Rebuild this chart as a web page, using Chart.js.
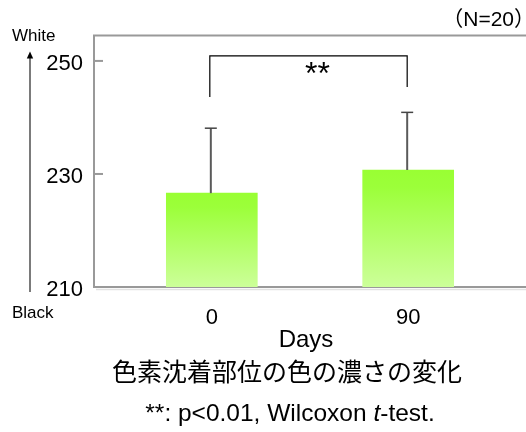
<!DOCTYPE html>
<html>
<head>
<meta charset="utf-8">
<script src="https://cdn.jsdelivr.net/npm/chart.js@4"></script>
<style>
  html, body { margin: 0; padding: 0; background: #fff; }
  canvas { display: block; }
</style>
</head>
<body>
<canvas id="c" width="526" height="432"></canvas>
<script>
// Skin colour measurement: mean (bars) and SD (upper whiskers), N=20
const days = ['0', '90'];
const means = [226.6, 230.7];
const sds = [11.5, 10.2];
const yTicks = [210, 230, 250];
const sigLabel = '**';

const LATIN = '"Liberation Sans", Arial, sans-serif';
const JP = '"Noto Sans CJK JP", sans-serif';
const AXIS_GRAY = '#999999';

function barGradient(ctx) {
  const chart = ctx.chart;
  const ys = chart.scales && chart.scales.y;
  if (!chart.chartArea || !ys || ctx.type !== 'data') return '#b3ff66';
  const top = ys.getPixelForValue(means[ctx.dataIndex]);
  const bottom = ys.getPixelForValue(ys.min);
  const g = chart.ctx.createLinearGradient(0, top, 0, bottom);
  g.addColorStop(0, '#99ff33');
  g.addColorStop(0.15, '#9cff3a');
  g.addColorStop(1, '#ccff99');
  return g;
}

// Frame pieces, inward ticks, whiskers, significance bracket and captions
const decorations = {
  id: 'decorations',
  afterDatasetsDraw(chart) {
    const { ctx, chartArea: a, scales: { x, y } } = chart;
    const bars = chart.getDatasetMeta(0).data;
    ctx.save();

    // top frame line and faint shadow under the baseline
    ctx.strokeStyle = AXIS_GRAY;
    ctx.lineWidth = 2;
    ctx.beginPath();
    ctx.moveTo(a.left - 1, a.top);
    ctx.lineTo(a.right, a.top);
    ctx.stroke();
    ctx.strokeStyle = '#e2e2e2';
    ctx.lineWidth = 1.5;
    ctx.beginPath();
    ctx.moveTo(a.left + 2, a.bottom + 2.5);
    ctx.lineTo(a.right, a.bottom + 2.5);
    ctx.stroke();

    // inward tick marks on the value axis
    ctx.strokeStyle = AXIS_GRAY;
    ctx.lineWidth = 2;
    y.ticks.forEach(t => {
      const py = y.getPixelForValue(t.value);
      if (py >= a.bottom - 1) return;
      ctx.beginPath();
      ctx.moveTo(a.left, py);
      ctx.lineTo(a.left + 9, py);
      ctx.stroke();
    });

    // upper SD whiskers
    bars.forEach((bar, i) => {
      const py0 = y.getPixelForValue(means[i]);
      const py1 = y.getPixelForValue(means[i] + sds[i]);
      ctx.strokeStyle = '#5a5a5a';
      ctx.lineWidth = 2;
      ctx.beginPath();
      ctx.moveTo(bar.x - 1, py0);
      ctx.lineTo(bar.x - 1, py1);
      ctx.stroke();
      ctx.strokeStyle = '#444';
      ctx.lineWidth = 1.5;
      ctx.beginPath();
      ctx.moveTo(bar.x - 7, py1);
      ctx.lineTo(bar.x + 5, py1);
      ctx.stroke();
    });

    // significance bracket between the two days
    const bx0 = bars[0].x - 2, bx1 = bars[1].x - 1;
    const bTop = y.getPixelForValue(250.9);
    const bL = y.getPixelForValue(243.6);
    const bR = y.getPixelForValue(245.4);
    ctx.strokeStyle = '#000';
    ctx.lineWidth = 1.2;
    ctx.beginPath();
    ctx.moveTo(bx0, bL);
    ctx.lineTo(bx0, bTop);
    ctx.lineTo(bx1, bTop);
    ctx.lineTo(bx1, bR);
    ctx.stroke();
    ctx.fillStyle = '#000';
    ctx.font = '32px ' + LATIN;
    ctx.textAlign = 'center';
    ctx.textBaseline = 'middle';
    ctx.fillText(sigLabel, (bx0 + bx1) / 2 + 9, bTop + 19);

    // White / Black direction arrow
    ctx.strokeStyle = '#222';
    ctx.lineWidth = 1.2;
    ctx.beginPath();
    ctx.moveTo(30, 58);
    ctx.lineTo(30, 292);
    ctx.stroke();
    ctx.fillStyle = '#000';
    ctx.beginPath();
    ctx.moveTo(30, 51.5);
    ctx.lineTo(26.8, 58.5);
    ctx.lineTo(33.2, 58.5);
    ctx.closePath();
    ctx.fill();

    ctx.font = '17px ' + LATIN;
    ctx.textAlign = 'left';
    ctx.fillText('White', 12, 36);
    ctx.fillText('Black', 12, 313);

    ctx.font = '21px ' + LATIN + ', ' + JP;
    ctx.textAlign = 'right';
    ctx.fillText('（N=20）', 535, 20);

    ctx.textAlign = 'center';
    ctx.font = '24px ' + LATIN;
    ctx.fillText('Days', 306, 340);

    ctx.font = '25px ' + JP;
    ctx.fillText('色素沈着部位の色の濃さの変化', 287, 371);

    // footnote with italic t
    const parts = [
      { s: '**: p<0.01, Wilcoxon ', f: '24.5px ' + LATIN },
      { s: 't', f: 'italic 24.5px ' + LATIN },
      { s: '-test.', f: '24.5px ' + LATIN }
    ];
    let total = 0;
    parts.forEach(p => { ctx.font = p.f; p.w = ctx.measureText(p.s).width; total += p.w; });
    let px = 290 - total / 2;
    ctx.textAlign = 'left';
    parts.forEach(p => { ctx.font = p.f; ctx.fillText(p.s, px, 414); px += p.w; });

    ctx.restore();
  }
};

new Chart(document.getElementById('c'), {
  type: 'bar',
  data: {
    datasets: [{
      data: days.map((d, i) => ({ x: i, y: means[i] })),
      backgroundColor: barGradient,
      borderWidth: 0,
      barThickness: 91
    }]
  },
  options: {
    responsive: false,
    animation: false,
    events: [],
    layout: { padding: { top: 35.5, right: 0, bottom: 0, left: 0 } },
    plugins: { legend: { display: false }, tooltip: { enabled: false } },
    scales: {
      x: {
        type: 'linear',
        min: -0.6,
        max: 1.6,
        offset: false,
        afterBuildTicks: s => { s.ticks = days.map((d, i) => ({ value: i })); },
        afterFit: s => { s.height = 432 - 287; },
        grid: { display: false, drawTicks: false, offset: false },
        border: { display: true, color: AXIS_GRAY, width: 2 },
        ticks: {
          callback: v => days[v] ?? '',
          font: { family: LATIN, size: 22 },
          color: '#000',
          padding: 18,
          maxRotation: 0
        }
      },
      y: {
        min: 210,
        max: 254.5,
        afterBuildTicks: s => { s.ticks = yTicks.map(v => ({ value: v })); },
        afterFit: s => { s.width = 94; },
        grid: { display: false, drawTicks: false },
        border: { display: true, color: AXIS_GRAY, width: 2 },
        ticks: {
          font: { family: LATIN, size: 22 },
          color: '#000',
          padding: 11,
          labelOffset: 3
        }
      }
    }
  },
  plugins: [decorations]
});
</script>
</body>
</html>
